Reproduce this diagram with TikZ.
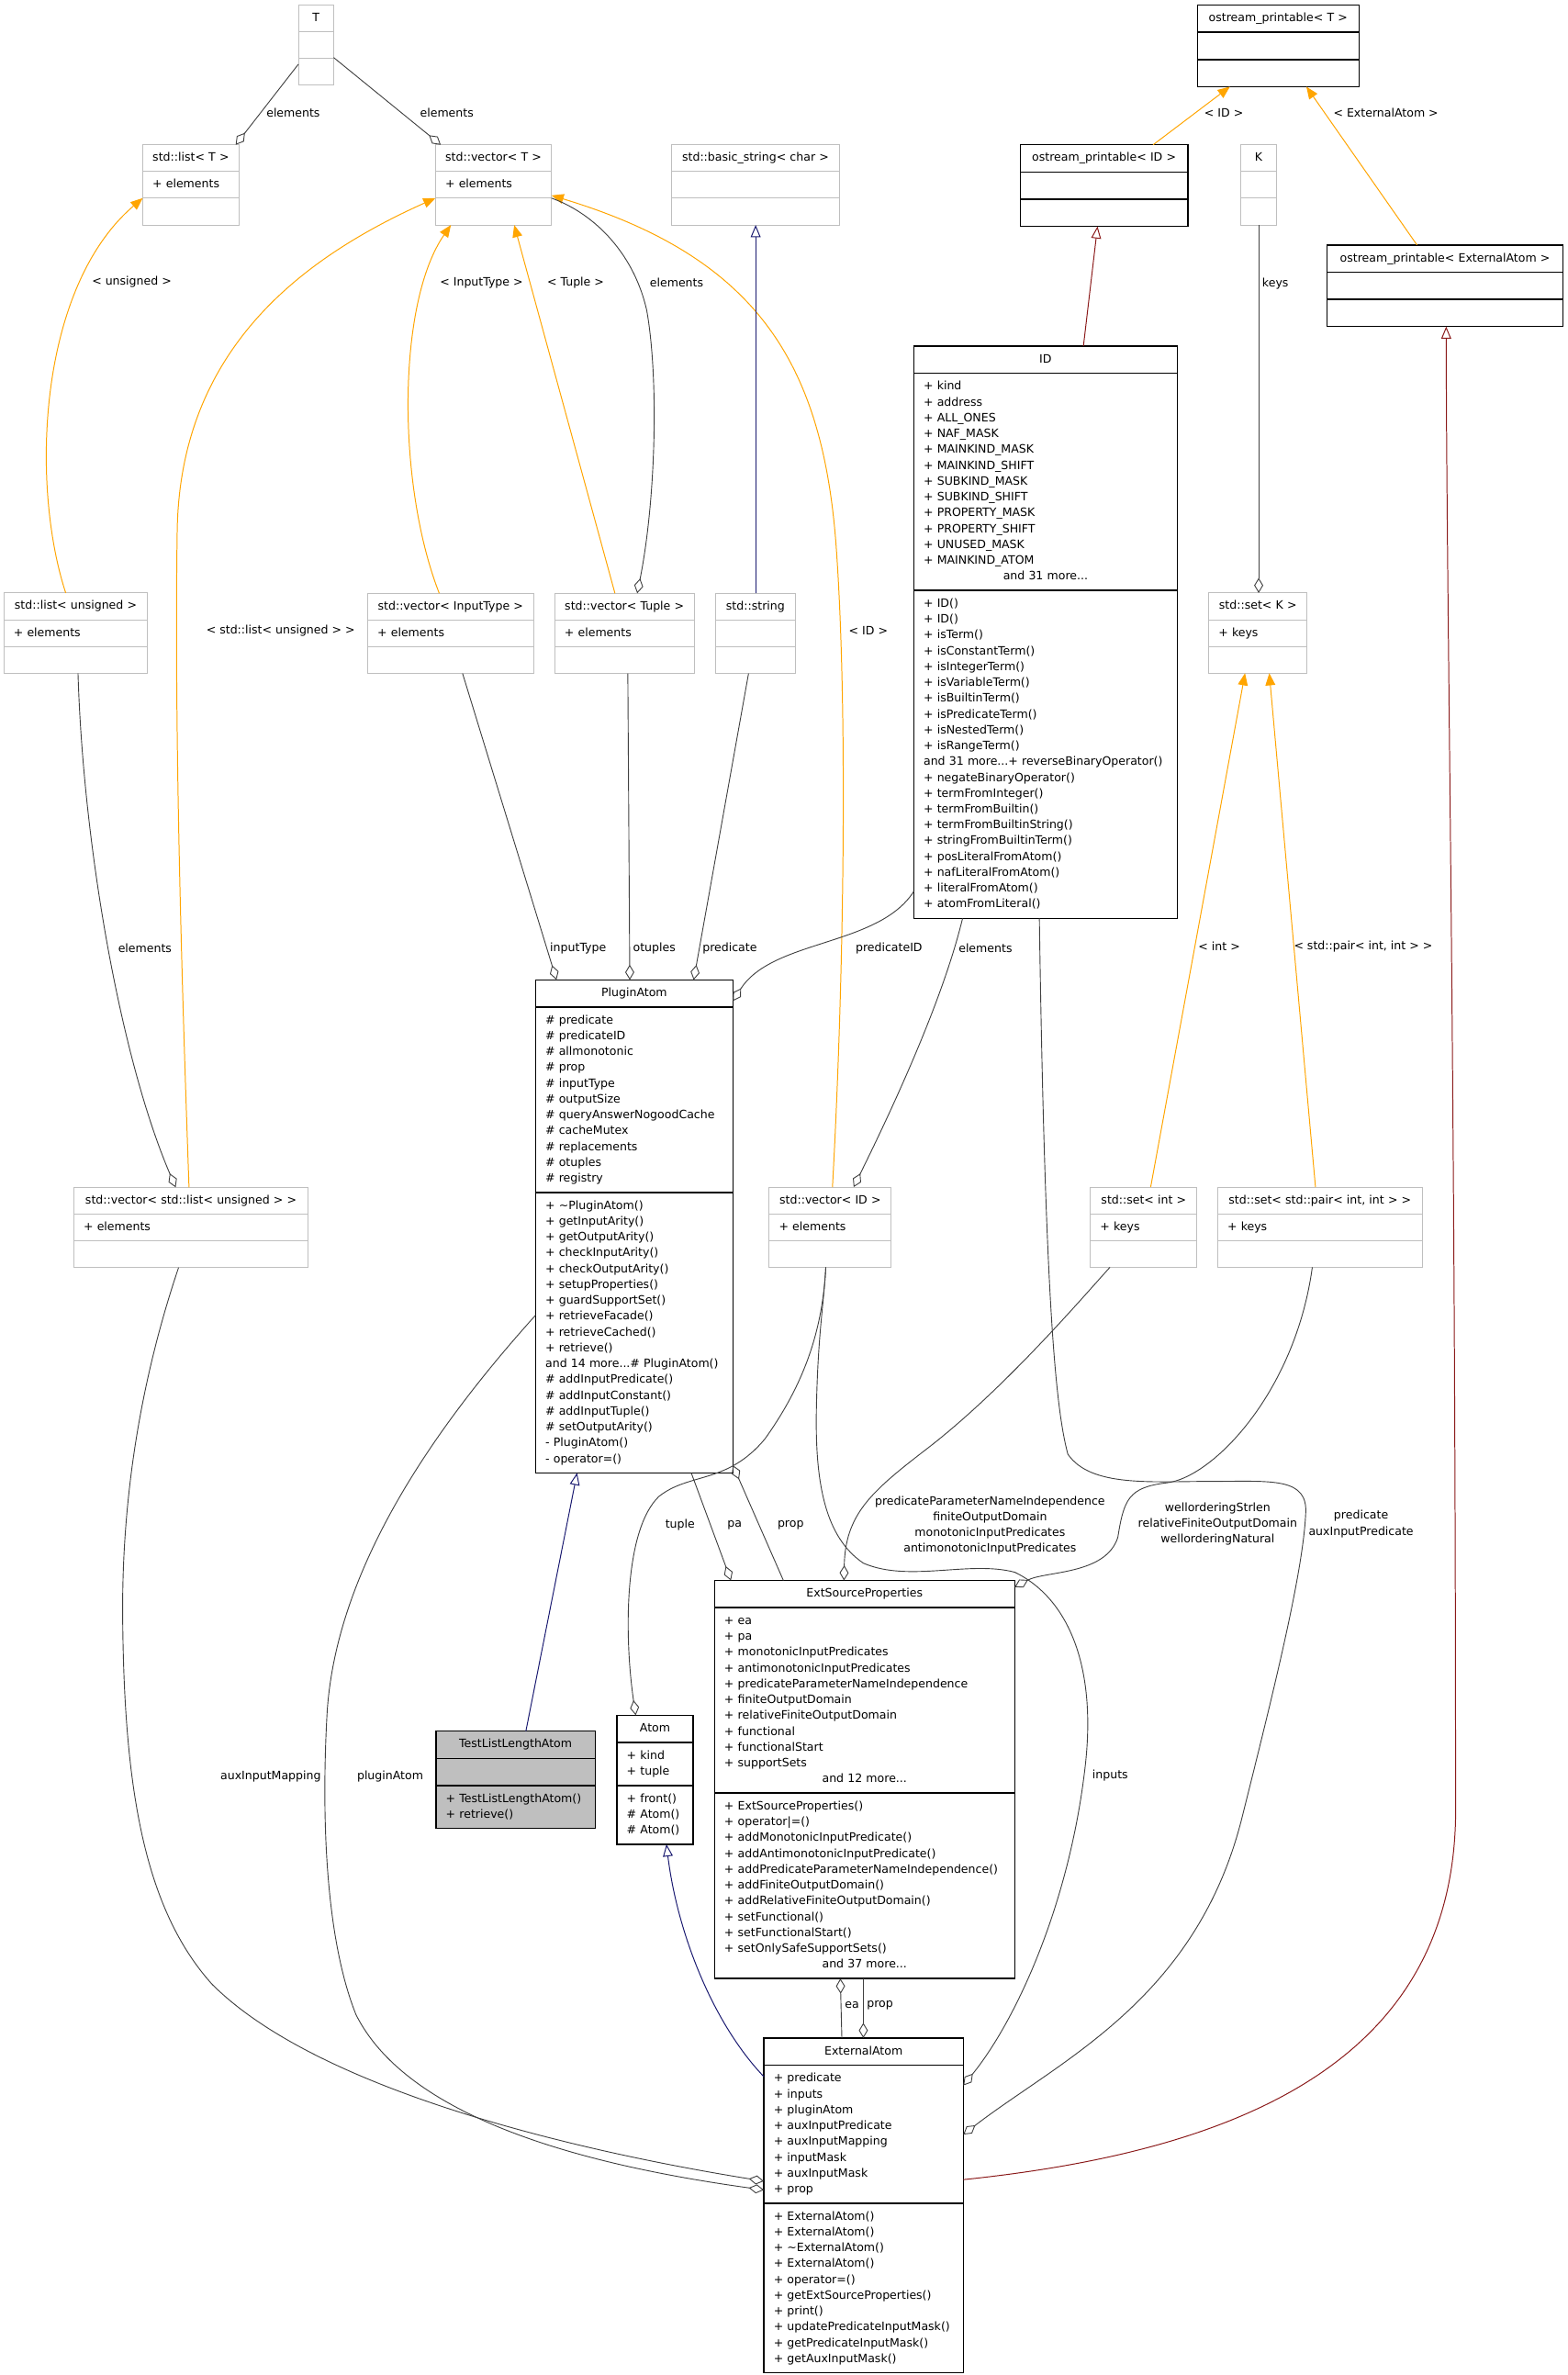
\documentclass[tikz,border=0pt]{standalone}
\usepackage{fontspec}
\setmainfont{DejaVu Sans}
\usetikzlibrary{shapes.multipart,arrows.meta,calc}

\definecolor{tmplgray}{HTML}{BFBFBF}
\definecolor{tllagray}{HTML}{BFBFBF}
\definecolor{edgegray}{HTML}{404040}
\definecolor{tmplorange}{HTML}{FFA500}
\definecolor{inhnavy}{HTML}{191970}
\definecolor{inhred}{HTML}{8B1A1A}

\newcommand\clsfont{\fontsize{7.6}{10.45}\selectfont}
% one line of a class box: left, centred, empty
\newcommand\rowl[1]{\noindent\strut\mbox{#1}\par}
\newcommand\rowc[1]{{\centering\noindent\strut\mbox{#1}\par}}
\newcommand\rowe{\noindent\strut\par}

\begin{document}
\begin{tikzpicture}[x=1pt,y=-1pt,
  cls/.style={rectangle split, rectangle split parts=3, anchor=north west,
    inner xsep=6.5pt, inner ysep=3.3pt, outer sep=0pt, font=\clsfont, text width=#1},
  tmpl/.style={cls=#1, draw=tmplgray, line width=0.6pt},
  klass/.style={cls=#1, draw=black, line width=0.9pt},
  agg/.style={draw=edgegray, line width=0.55pt, {Diamond[open,length=10pt,width=6pt]}-},
  inst/.style={draw=tmplorange, line width=0.6pt, -{Triangle[length=8pt,width=6.5pt]}},
  pubinh/.style={draw=inhnavy, line width=0.6pt, -{Triangle[open,length=8pt,width=6.5pt]}},
  privinh/.style={draw=inhred, line width=0.6pt, -{Triangle[open,length=8pt,width=6.5pt]}},
  lbl/.style={font=\clsfont, inner sep=0pt, align=center}]

\fill[white] (0,0) rectangle (1035,1568);
\useasboundingbox (0,0) rectangle (1035,1568);

% Template classes
\node[tmpl=10.3pt] (tpar) at (197,3.4) {\rowc{T}\nodepart{two}\rowe\nodepart{three}\rowe};
\node[tmpl=50.6pt] (listT) at (94.2,95.6) {\rowc{std::list< T >}\nodepart{two}\rowl{+ elements}\nodepart{three}\rowe};
\node[tmpl=63.6pt] (vecT) at (287.5,95.6) {\rowc{std::vector< T >}\nodepart{two}\rowl{+ elements}\nodepart{three}\rowe};
\node[tmpl=98.2pt] (bstr) at (443.2,95.6) {\rowc{std::basic\_string< char >}\nodepart{two}\rowe\nodepart{three}\rowe};
\node[tmpl=10.4pt] (kpar) at (819.3,95.6) {\rowc{K}\nodepart{two}\rowe\nodepart{three}\rowe};
\node[tmpl=82pt] (listU) at (2.5,391.5) {\rowc{std::list< unsigned >}\nodepart{two}\rowl{+ elements}\nodepart{three}\rowe};
\node[tmpl=96.5pt] (vecIT) at (242.7,391.7) {\rowc{std::vector< InputType >}\nodepart{two}\rowl{+ elements}\nodepart{three}\rowe};
\node[tmpl=79.1pt] (vecTup) at (366.2,391.7) {\rowc{std::vector< Tuple >}\nodepart{two}\rowl{+ elements}\nodepart{three}\rowe};
\node[tmpl=39.7pt] (str) at (472.4,391.7) {\rowc{std::string}\nodepart{two}\rowe\nodepart{three}\rowe};
\node[tmpl=52pt] (setK) at (798,391.5) {\rowc{std::set< K >}\nodepart{two}\rowl{+ keys}\nodepart{three}\rowe};
\node[tmpl=141.8pt] (vecLU) at (48.7,783.9) {\rowc{std::vector< std::list< unsigned > >}\nodepart{two}\rowl{+ elements}\nodepart{three}\rowe};
\node[tmpl=67.7pt] (vecID) at (507.8,783.7) {\rowc{std::vector< ID >}\nodepart{two}\rowl{+ elements}\nodepart{three}\rowe};
\node[tmpl=57.4pt] (setInt) at (719.9,783.7) {\rowc{std::set< int >}\nodepart{two}\rowl{+ keys}\nodepart{three}\rowe};
\node[tmpl=122.1pt] (setPair) at (803.9,783.7) {\rowc{std::set< std::pair< int, int > >}\nodepart{two}\rowl{+ keys}\nodepart{three}\rowe};

% Classes
\node[klass=93.7pt] (osT) at (790.5,3.4) {\rowc{ostream\_printable< T >}\nodepart{two}\rowe\nodepart{three}\rowe};
\node[klass=97.6pt] (osID) at (673.6,95.6) {\rowc{ostream\_printable< ID >}\nodepart{two}\rowe\nodepart{three}\rowe};
\node[klass=142.9pt] (osEA) at (876.1,161.7) {\rowc{ostream\_printable< ExternalAtom >}\nodepart{two}\rowe\nodepart{three}\rowe};
\node[klass=161pt] (id) at (603.3,228.5) {\rowc{ID}
  \nodepart{two}\rowl{+ kind}\rowl{+ address}\rowl{+ ALL\_ONES}\rowl{+ NAF\_MASK}
  \rowl{+ MAINKIND\_MASK}\rowl{+ MAINKIND\_SHIFT}\rowl{+ SUBKIND\_MASK}\rowl{+ SUBKIND\_SHIFT}
  \rowl{+ PROPERTY\_MASK}\rowl{+ PROPERTY\_SHIFT}\rowl{+ UNUSED\_MASK}\rowl{+ MAINKIND\_ATOM}
  \rowc{and 31 more...}
  \nodepart{three}\rowl{+ ID()}\rowl{+ ID()}\rowl{+ isTerm()}\rowl{+ isConstantTerm()}
  \rowl{+ isIntegerTerm()}\rowl{+ isVariableTerm()}\rowl{+ isBuiltinTerm()}\rowl{+ isPredicateTerm()}
  \rowl{+ isNestedTerm()}\rowl{+ isRangeTerm()}\rowl{and 31 more...+ reverseBinaryOperator()}
  \rowl{+ negateBinaryOperator()}\rowl{+ termFromInteger()}\rowl{+ termFromBuiltin()}
  \rowl{+ termFromBuiltinString()}\rowl{+ stringFromBuiltinTerm()}\rowl{+ posLiteralFromAtom()}
  \rowl{+ nafLiteralFromAtom()}\rowl{+ literalFromAtom()}\rowl{+ atomFromLiteral()}};
\node[klass=117.3pt] (pa) at (353.6,646.9) {\rowc{PluginAtom}
  \nodepart{two}\rowl{\# predicate}\rowl{\# predicateID}\rowl{\# allmonotonic}\rowl{\# prop}
  \rowl{\# inputType}\rowl{\# outputSize}\rowl{\# queryAnswerNogoodCache}\rowl{\# cacheMutex}
  \rowl{\# replacements}\rowl{\# otuples}\rowl{\# registry}
  \nodepart{three}\rowl{+ \textasciitilde PluginAtom()}\rowl{+ getInputArity()}\rowl{+ getOutputArity()}
  \rowl{+ checkInputArity()}\rowl{+ checkOutputArity()}\rowl{+ setupProperties()}
  \rowl{+ guardSupportSet()}\rowl{+ retrieveFacade()}\rowl{+ retrieveCached()}\rowl{+ retrieve()}
  \rowl{and 14 more...\# PluginAtom()}\rowl{\# addInputPredicate()}\rowl{\# addInputConstant()}
  \rowl{\# addInputTuple()}\rowl{\# setOutputArity()}\rowl{- PluginAtom()}\rowl{- operator=()}};
\node[klass=185.2pt] (esp) at (471.7,1043.4) {\rowc{ExtSourceProperties}
  \nodepart{two}\rowl{+ ea}\rowl{+ pa}\rowl{+ monotonicInputPredicates}\rowl{+ antimonotonicInputPredicates}
  \rowl{+ predicateParameterNameIndependence}\rowl{+ finiteOutputDomain}\rowl{+ relativeFiniteOutputDomain}
  \rowl{+ functional}\rowl{+ functionalStart}\rowl{+ supportSets}\rowc{and 12 more...}
  \nodepart{three}\rowl{+ ExtSourceProperties()}\rowl{+ operator|=()}\rowl{+ addMonotonicInputPredicate()}
  \rowl{+ addAntimonotonicInputPredicate()}\rowl{+ addPredicateParameterNameIndependence()}
  \rowl{+ addFiniteOutputDomain()}\rowl{+ addRelativeFiniteOutputDomain()}\rowl{+ setFunctional()}
  \rowl{+ setFunctionalStart()}\rowl{+ setOnlySafeSupportSets()}\rowc{and 37 more...}};
\node[klass=92pt, fill=tllagray] (tlla) at (287.9,1142.9) {\rowc{TestListLengthAtom}
  \nodepart{two}\rowe\nodepart{three}\rowl{+ TestListLengthAtom()}\rowl{+ retrieve()}};
\node[klass=37.3pt] (atom) at (407.3,1132.4) {\rowc{Atom}
  \nodepart{two}\rowl{+ kind}\rowl{+ tuple}
  \nodepart{three}\rowl{+ front()}\rowl{\# Atom()}\rowl{\# Atom()}};
\node[klass=118.7pt] (ea) at (504.3,1345.5) {\rowc{ExternalAtom}
  \nodepart{two}\rowl{+ predicate}\rowl{+ inputs}\rowl{+ pluginAtom}\rowl{+ auxInputPredicate}
  \rowl{+ auxInputMapping}\rowl{+ inputMask}\rowl{+ auxInputMask}\rowl{+ prop}
  \nodepart{three}\rowl{+ ExternalAtom()}\rowl{+ ExternalAtom()}\rowl{+ \textasciitilde ExternalAtom()}
  \rowl{+ ExternalAtom()}\rowl{+ operator=()}\rowl{+ getExtSourceProperties()}\rowl{+ print()}
  \rowl{+ updatePredicateInputMask()}\rowl{+ getPredicateInputMask()}\rowl{+ getAuxInputMask()}};

% Template instances
\draw[inst] ($(listU.north west)+(40.9,0)$) .. controls (20,320) and (25,190) .. ($(listT.north west)+(0,35.2)$);
\draw[inst] ($(vecLU.north west)+(76.1,0)$) .. controls (120,650) and (115,480) .. (117,350)
  .. controls (119,230) and (200,170) .. ($(vecT.north west)+(0,35.2)$);
\draw[inst] ($(vecIT.north west)+(47.3,0)$) .. controls (262,320) and (262,200) .. ($(vecT.south west)+(10.2,0)$);
\draw[inst] ($(vecTup.north west)+(39.8,0)$) -- ($(vecT.south west)+(52,0)$);
\draw[inst] ($(vecID.north west)+(41.8,0)$) .. controls (557,650) and (560,470) .. (552,360)
  .. controls (543,240) and (500,170) .. ($(vecT.north east)+(0,33.4)$);
\draw[inst] ($(setInt.north west)+(39.8,0)$) -- ($(setK.south west)+(24,0)$);
\draw[inst] ($(setPair.north west)+(64.6,0)$) -- ($(setK.south west)+(40,0)$);
\draw[inst] ($(osID.north west)+(87.7,0)$) -- ($(osT.south west)+(21.5,0)$);
\draw[inst] ($(osEA.north west)+(59.4,0)$) -- ($(osT.south west)+(72,0)$);

% Inheritance
\draw[pubinh] ($(str.north west)+(26.5,0)$) -- ($(bstr.south west)+(55.7,0)$);
\draw[pubinh] ($(tlla.north west)+(59.3,0)$) -- ($(pa.south west)+(27.4,0)$);
\draw[pubinh] ($(ea.north west)+(0,25.5)$) .. controls (470,1335) and (447,1275) .. ($(atom.south west)+(32.7,0)$);
\draw[privinh] ($(id.north west)+(112,0)$) -- ($(osID.south west)+(51,0)$);
\draw[privinh] ($(ea.north east)+(0,93.5)$) .. controls (820,1420) and (958,1360) .. (961,1200)
  .. controls (961,700) and (955,400) .. ($(osEA.south west)+(78.7,0)$);

% Members
\draw[agg] ($(listT.north west)+(61.4,0)$) -- ($(tpar.north west)+(0,39)$);
\draw[agg] ($(vecT.north west)+(3.5,0)$) -- ($(tpar.north east)+(0,34.6)$);
\draw[agg] ($(vecTup.north west)+(54.5,0)$) .. controls (433,330) and (435,250) .. (427,205)
  .. controls (418,165) and (390,140) .. ($(vecT.north east)+(0,35.2)$);
\draw[agg] ($(vecLU.north west)+(67.3,0)$) .. controls (80,700) and (55,560) .. ($(listU.south west)+(49,0)$);
\draw[agg] ($(setK.north west)+(33,0)$) -- ($(kpar.south west)+(11.7,0)$);
\draw[agg] ($(pa.north west)+(13.8,0)$) -- ($(vecIT.south west)+(62.7,0)$);
\draw[agg] ($(pa.north west)+(62.2,0)$) -- ($(vecTup.south west)+(48.3,0)$);
\draw[agg] ($(pa.north west)+(104.4,0)$) -- ($(str.south west)+(21.8,0)$);
\draw[agg] ($(pa.north east)+(0,14)$) .. controls (510,620) and (580,625) .. ($(id.north west)+(0,360)$);
\draw[agg] ($(vecID.north west)+(55.8,0)$) .. controls (600,710) and (625,650) .. ($(id.south west)+(32.2,0)$);
\draw[agg] ($(pa.south east)+(0,-5)$) -- ($(esp.north west)+(45.5,0)$);
\draw[agg] ($(esp.north west)+(10.9,0)$) -- ($(pa.south west)+(102.8,0)$);
\draw[agg] ($(esp.north west)+(85.5,0)$) .. controls (558,1000) and (575,985) .. (610,958)
  .. controls (660,920) and (710,862) .. ($(setInt.south west)+(12.9,0)$);
\draw[agg] ($(esp.north east)+(0,4.4)$) .. controls (690,1037) and (730,1040) .. (738,1015)
  .. controls (742,990) and (745,982) .. (770,979)
  .. controls (800,976) and (855,920) .. ($(setPair.south west)+(62.5,0)$);
\draw[agg] ($(atom.north west)+(12.4,0)$) .. controls (412,1080) and (412,1010) .. (435,988)
  .. controls (455,972) and (480,980) .. (505,950)
  .. controls (530,915) and (543,880) .. ($(vecID.south west)+(37.4,0)$);
\draw[agg] ($(ea.north east)+(0,31.3)$) .. controls (670,1335) and (705,1260) .. (716,1170)
  .. controls (725,1100) and (705,1055) .. (670,1038)
  .. controls (640,1030) and (600,1045) .. (570,1032)
  .. controls (545,1015) and (538,980) .. (539,930)
  .. controls (540,880) and (544,860) .. ($(vecID.south west)+(37.4,0)$);
\draw[agg] ($(ea.north east)+(0,63.7)$) .. controls (700,1360) and (790,1320) .. (820,1200)
  .. controls (840,1120) and (860,1040) .. (862,1000)
  .. controls (864,975) and (840,978) .. (800,978)
  .. controls (760,978) and (720,982) .. (705,960)
  .. controls (697,930) and (690,860) .. ($(id.south west)+(82.9,0)$);
\draw[agg] ($(ea.north west)+(0,94.5)$) .. controls (380,1420) and (210,1380) .. (140,1310)
  .. controls (95,1260) and (82,1180) .. (81,1069)
  .. controls (80,970) and (100,890) .. ($(vecLU.south west)+(69.2,0)$);
\draw[agg] ($(ea.north west)+(0,100.3)$) .. controls (390,1430) and (270,1400) .. (235,1330)
  .. controls (215,1280) and (212,1200) .. (216,1130)
  .. controls (222,1040) and (280,950) .. ($(pa.north west)+(0,221.4)$);
\draw[agg] ($(esp.south west)+(83.1,0)$) -- ($(ea.north west)+(51.5,0)$);
\draw[agg] ($(ea.north west)+(65.7,0)$) -- ($(esp.south west)+(98.3,0)$);

% Labels
\node[lbl] (lbTlist) at (193.6,74.4) {elements};
\node[lbl] (lbTvec) at (295,74.4) {elements};
\node[lbl] (lbOsID) at (808,74.4) {< ID >};
\node[lbl] (lbOsEA) at (915,74.4) {< ExternalAtom >};
\node[lbl] (lbUns) at (87,186) {< unsigned >};
\node[lbl] (lbInType) at (317.9,186.8) {< InputType >};
\node[lbl] (lbTup) at (380,186.8) {< Tuple >};
\node[lbl] (lbTupElem) at (446.7,186.8) {elements};
\node[lbl] (lbKeys) at (842,187.4) {keys};
\node[lbl] (lbLU) at (185.3,416.3) {< std::list< unsigned > >};
\node[lbl] (lbVecID) at (573.3,416.3) {< ID >};
\node[lbl] (lbUElem) at (95.7,626.1) {elements};
\node[lbl] (lbInputType) at (381.7,625.9) {inputType};
\node[lbl] (lbOtuples) at (432,625.9) {otuples};
\node[lbl] (lbPredicate) at (481.8,625.9) {predicate};
\node[lbl] (lbPredID) at (586.9,625.9) {predicateID};
\node[lbl] (lbIDElem) at (650.6,625.9) {elements};
\node[lbl] (lbInt) at (805,625) {< int >};
\node[lbl] (lbPair) at (900,625) {< std::pair< int, int > >};
\node[lbl] (lbTuple) at (449,1006.9) {tuple};
\node[lbl] (lbPa) at (485,1006.9) {pa};
\node[lbl] (lbProp) at (522,1006.9) {prop};
\node[lbl] (lbSetInt) at (653.6,1007) {predicateParameterNameIndependence\\finiteOutputDomain\\monotonicInputPredicates\\antimonotonicInputPredicates};
\node[lbl] (lbSetPair) at (803.9,1006) {wellorderingStrlen\\relativeFiniteOutputDomain\\wellorderingNatural};
\node[lbl] (lbPredAux) at (898.6,1006.2) {predicate\\auxInputPredicate};
\node[lbl] (lbAux) at (178.7,1172.6) {auxInputMapping};
\node[lbl] (lbPlugin) at (257.6,1172.6) {pluginAtom};
\node[lbl] (lbInputs) at (733,1172) {inputs};
\node[lbl] (lbEa) at (562.5,1324) {ea};
\node[lbl] (lbEaProp) at (581,1324) {prop};

\end{tikzpicture}
\end{document}
